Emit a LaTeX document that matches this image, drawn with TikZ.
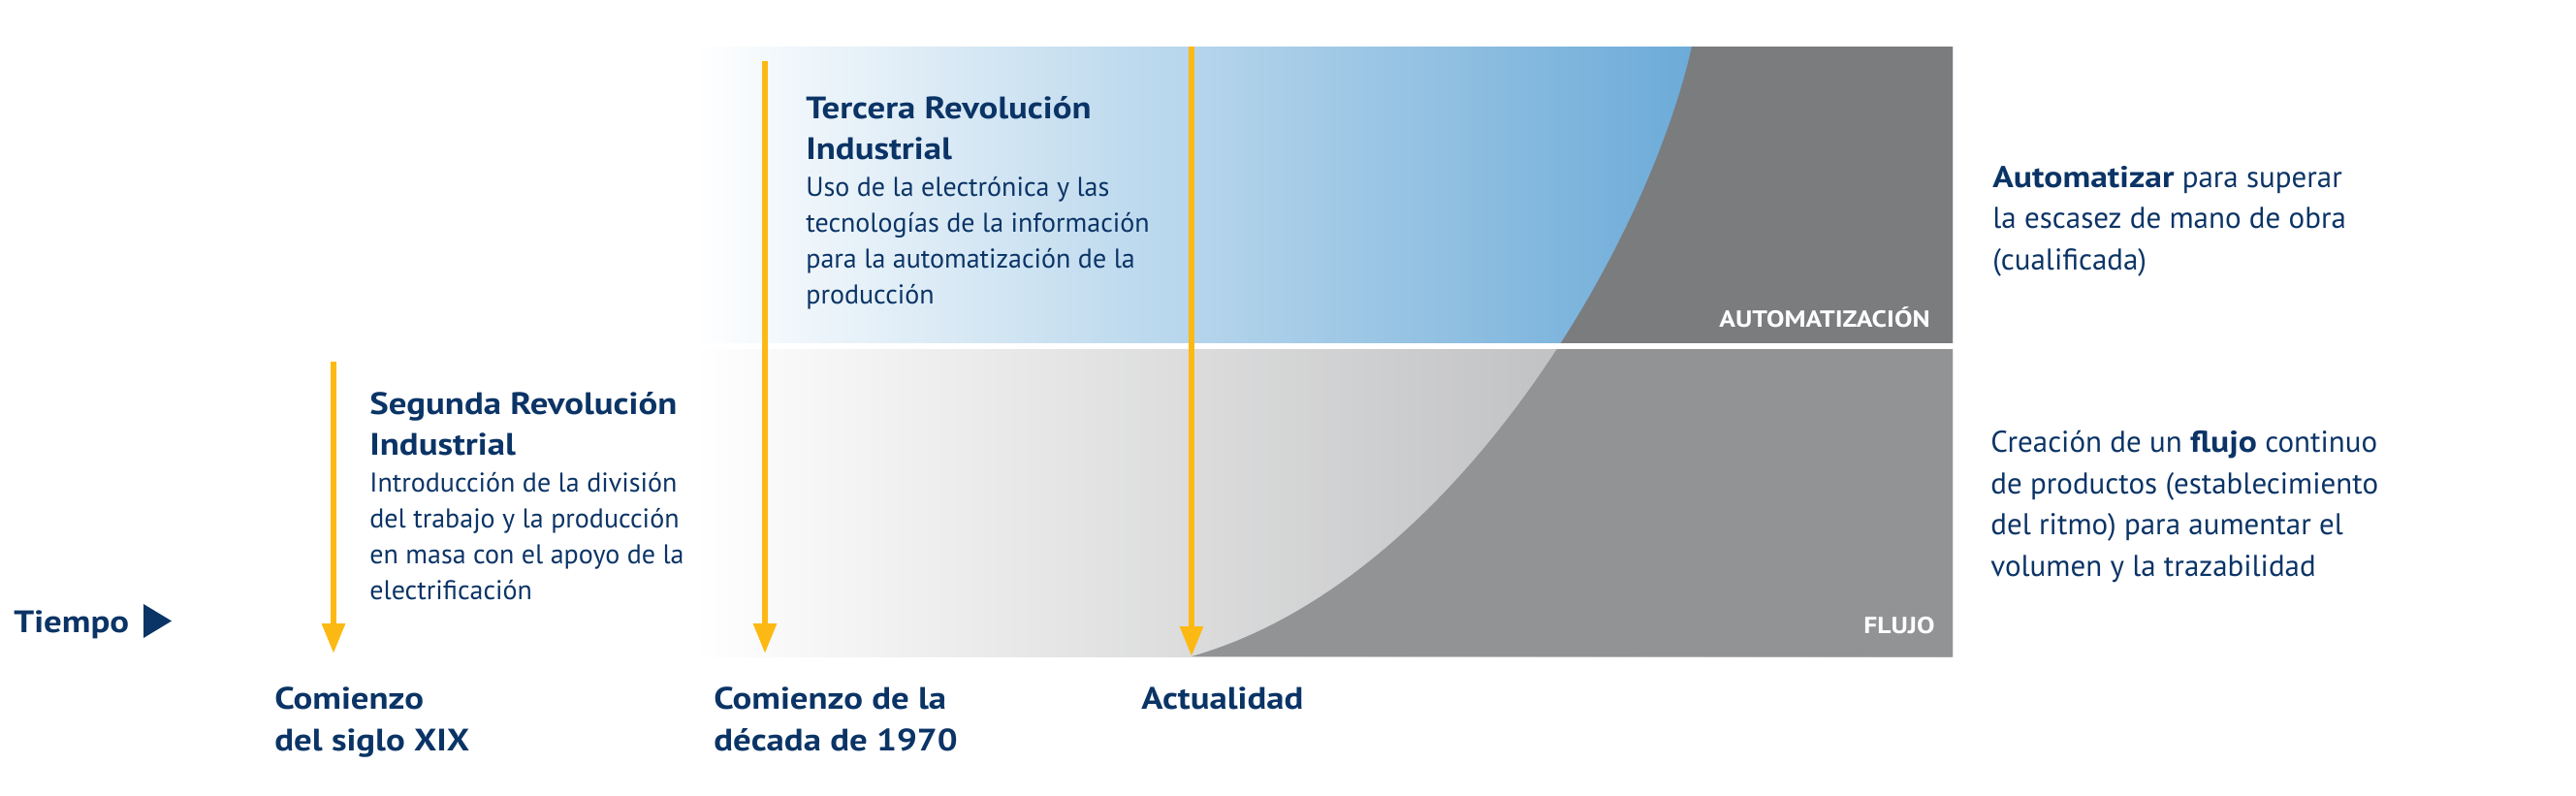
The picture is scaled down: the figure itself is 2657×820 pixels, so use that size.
\documentclass[tikz,border=0pt]{standalone}
\usepackage{fontspec}
\setmainfont{PT Sans}[BoldFeatures={FakeStretch=1.15}]
\usetikzlibrary{arrows.meta}
\definecolor{navy}{RGB}{11,52,102}
\definecolor{amarillo}{RGB}{253,185,19}
\definecolor{azul}{RGB}{70,149,206}
\definecolor{grisclaro}{RGB}{165,166,168}
\definecolor{grisauto}{RGB}{123,124,126}
\definecolor{grisflujo}{RGB}{146,147,149}
\begin{document}
\begin{tikzpicture}[x=0.5pt,y=-0.5pt,line join = round,>={Triangle[length=15.5pt,width=11.5pt]}]
	\tikzset{flecha/.style={->,draw=amarillo,line width=3pt},
		titulo/.style={anchor=base west,align=left,text=navy,font=\fontsize{16pt}{21pt}\selectfont\bfseries,inner sep=0pt},
		cuerpo/.style={anchor=base west,align=left,text=navy,font=\fontsize{14pt}{18.5pt}\selectfont,inner sep=0pt},
		texto/.style={anchor=base west,align=left,text=navy,font=\fontsize{15.5pt}{21.2pt}\selectfont,inner sep=0pt},
		etiqueta/.style={anchor=base east,text=white,font=\fontsize{12pt}{13pt}\selectfont\bfseries,inner sep=0pt}}
	\def\hscurve{(a2) .. controls (1500,600) and (1700,250) .. (1745,48)}
	\useasboundingbox (0,0) rectangle (2657,820);
	% bandas
	\coordinate (a1) at (1229,48); \coordinate (a2) at (1229,677);
	\shade[left color=white,right color=azul] (715,48) rectangle (2014,353);
	\shade[left color=white,right color=grisclaro] (715,360) rectangle (2014,677);
	\begin{scope}
		\clip (715,48) rectangle (2014,353);
		\fill[grisauto] \hscurve -- (2014,48) -- (2014,677) -- cycle;
	\end{scope}
	\begin{scope}
		\clip (715,360) rectangle (2014,677);
		\fill[grisflujo] \hscurve -- (2014,48) -- (2014,677) -- cycle;
	\end{scope}
	\node[etiqueta] (lblauto) at (1991,337) {AUTOMATIZACIÓN};
	\node[etiqueta] (lblflujo) at (1996,653) {FLUJO};
	% flechas
	\coordinate (s1) at (344,373); \coordinate (s2) at (344,674);
	\coordinate (t1) at (789,63); \coordinate (t2) at (789,674);
	\draw[flecha] (s1)--(s2);
	\draw[flecha] (t1)--(t2);
	\draw[flecha] (a1)--(a2);
	% textos (base = ultima linea)
	\node[titulo] (tiempo) at (14,652) {Tiempo};
	\fill[navy] (148,623)--(177,640.5)--(148,658)--cycle;
	\node[titulo] (segtit) at (381,469) {Segunda Revolución\\Industrial};
	\node[cuerpo] (segtxt) at (381,618) {Introducción de la división\\del trabajo y la producción\\en masa con el apoyo de la\\electrificación};
	\node[titulo] (tertit) at (831,164) {Tercera Revolución\\Industrial};
	\node[cuerpo] (tertxt) at (831,313) {Uso de la electrónica y las\\tecnologías de la información\\para la automatización de la\\producción};
	\node[titulo,font=\fontsize{16pt}{21.5pt}\selectfont\bfseries] (fecha1) at (283,774) {Comienzo\\del siglo XIX};
	\node[titulo,font=\fontsize{16pt}{21.5pt}\selectfont\bfseries] (fecha2) at (736,774) {Comienzo de la\\década de 1970};
	\node[titulo] (fecha3) at (1177,731) {Actualidad};
	\node[texto] (txtauto) at (2055,278) {\textbf{Automatizar} para superar\\la escasez de mano de obra\\(cualificada)};
	\node[texto] (txtflujo) at (2053,594) {Creación de un \textbf{flujo} continuo\\de productos (establecimiento\\del ritmo) para aumentar el\\volumen y la trazabilidad};
\end{tikzpicture}
\end{document}
